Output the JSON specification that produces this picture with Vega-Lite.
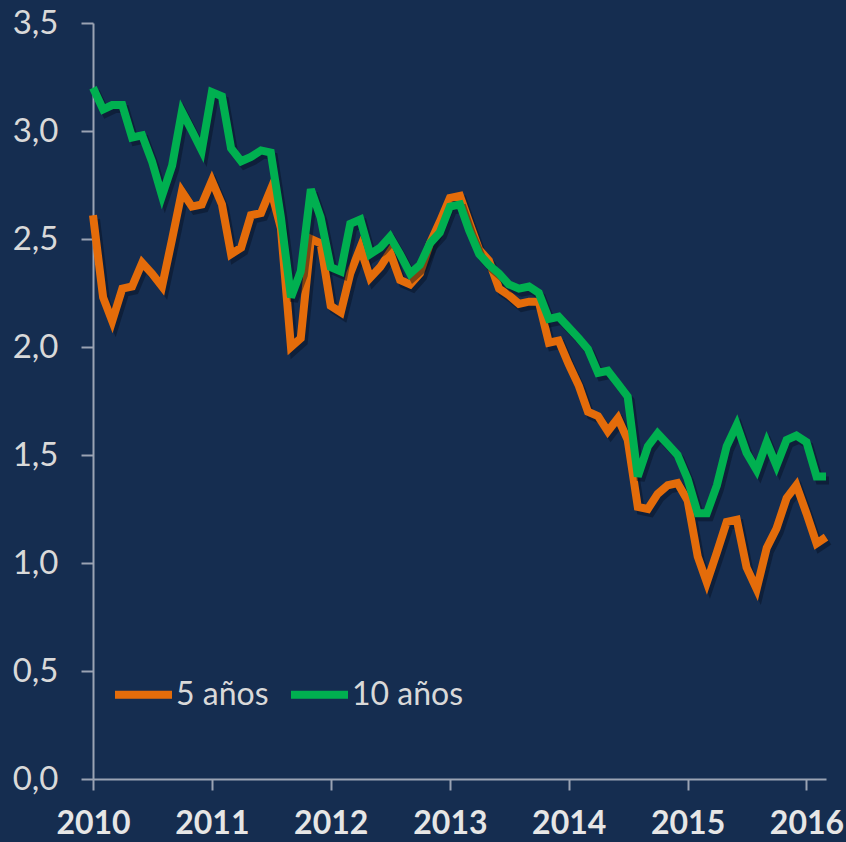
{
  "$schema": "https://vega.github.io/schema/vega-lite/v6.json",
  "width": 733,
  "height": 756,
  "autosize": {"type": "none"},
  "padding": {"left": 93, "top": 23, "right": 20, "bottom": 63},
  "background": "#152d50",
  "config": {
    "view": {"stroke": null},
    "font": "Lato",
    "axis": {"grid": false, "domainColor": "#9aa3b3", "tickColor": "#9aa3b3", "domainWidth": 2, "tickWidth": 2, "labelColor": "#d9d9d9", "labelFont": "Lato", "title": null}
  },
  "data": {
    "values": [
      {"fecha":"2010-01","serie":"5 años","valor":2.61},{"fecha":"2010-02","serie":"5 años","valor":2.23},{"fecha":"2010-03","serie":"5 años","valor":2.12},{"fecha":"2010-04","serie":"5 años","valor":2.27},{"fecha":"2010-05","serie":"5 años","valor":2.28},{"fecha":"2010-06","serie":"5 años","valor":2.39},{"fecha":"2010-07","serie":"5 años","valor":2.34},{"fecha":"2010-08","serie":"5 años","valor":2.28},{"fecha":"2010-09","serie":"5 años","valor":2.50},{"fecha":"2010-10","serie":"5 años","valor":2.72},{"fecha":"2010-11","serie":"5 años","valor":2.65},{"fecha":"2010-12","serie":"5 años","valor":2.66},
      {"fecha":"2011-01","serie":"5 años","valor":2.77},{"fecha":"2011-02","serie":"5 años","valor":2.66},{"fecha":"2011-03","serie":"5 años","valor":2.43},{"fecha":"2011-04","serie":"5 años","valor":2.46},{"fecha":"2011-05","serie":"5 años","valor":2.61},{"fecha":"2011-06","serie":"5 años","valor":2.62},{"fecha":"2011-07","serie":"5 años","valor":2.73},{"fecha":"2011-08","serie":"5 años","valor":2.55},{"fecha":"2011-09","serie":"5 años","valor":2.00},{"fecha":"2011-10","serie":"5 años","valor":2.04},{"fecha":"2011-11","serie":"5 años","valor":2.50},{"fecha":"2011-12","serie":"5 años","valor":2.48},
      {"fecha":"2012-01","serie":"5 años","valor":2.19},{"fecha":"2012-02","serie":"5 años","valor":2.16},{"fecha":"2012-03","serie":"5 años","valor":2.34},{"fecha":"2012-04","serie":"5 años","valor":2.46},{"fecha":"2012-05","serie":"5 años","valor":2.32},{"fecha":"2012-06","serie":"5 años","valor":2.37},{"fecha":"2012-07","serie":"5 años","valor":2.44},{"fecha":"2012-08","serie":"5 años","valor":2.31},{"fecha":"2012-09","serie":"5 años","valor":2.29},{"fecha":"2012-10","serie":"5 años","valor":2.34},{"fecha":"2012-11","serie":"5 años","valor":2.48},{"fecha":"2012-12","serie":"5 años","valor":2.58},
      {"fecha":"2013-01","serie":"5 años","valor":2.69},{"fecha":"2013-02","serie":"5 años","valor":2.70},{"fecha":"2013-03","serie":"5 años","valor":2.58},{"fecha":"2013-04","serie":"5 años","valor":2.45},{"fecha":"2013-05","serie":"5 años","valor":2.40},{"fecha":"2013-06","serie":"5 años","valor":2.27},{"fecha":"2013-07","serie":"5 años","valor":2.24},{"fecha":"2013-08","serie":"5 años","valor":2.20},{"fecha":"2013-09","serie":"5 años","valor":2.21},{"fecha":"2013-10","serie":"5 años","valor":2.21},{"fecha":"2013-11","serie":"5 años","valor":2.02},{"fecha":"2013-12","serie":"5 años","valor":2.03},
      {"fecha":"2014-01","serie":"5 años","valor":1.92},{"fecha":"2014-02","serie":"5 años","valor":1.82},{"fecha":"2014-03","serie":"5 años","valor":1.70},{"fecha":"2014-04","serie":"5 años","valor":1.68},{"fecha":"2014-05","serie":"5 años","valor":1.61},{"fecha":"2014-06","serie":"5 años","valor":1.67},{"fecha":"2014-07","serie":"5 años","valor":1.57},{"fecha":"2014-08","serie":"5 años","valor":1.26},{"fecha":"2014-09","serie":"5 años","valor":1.25},{"fecha":"2014-10","serie":"5 años","valor":1.32},{"fecha":"2014-11","serie":"5 años","valor":1.36},{"fecha":"2014-12","serie":"5 años","valor":1.37},
      {"fecha":"2015-01","serie":"5 años","valor":1.29},{"fecha":"2015-02","serie":"5 años","valor":1.03},{"fecha":"2015-03","serie":"5 años","valor":0.91},{"fecha":"2015-04","serie":"5 años","valor":1.05},{"fecha":"2015-05","serie":"5 años","valor":1.19},{"fecha":"2015-06","serie":"5 años","valor":1.20},{"fecha":"2015-07","serie":"5 años","valor":0.98},{"fecha":"2015-08","serie":"5 años","valor":0.88},{"fecha":"2015-09","serie":"5 años","valor":1.07},{"fecha":"2015-10","serie":"5 años","valor":1.16},{"fecha":"2015-11","serie":"5 años","valor":1.30},{"fecha":"2015-12","serie":"5 años","valor":1.36},
      {"fecha":"2016-01","serie":"5 años","valor":1.23},{"fecha":"2016-02","serie":"5 años","valor":1.09},{"fecha":"2016-03","serie":"5 años","valor":1.12},
      {"fecha":"2010-01","serie":"10 años","valor":3.20},{"fecha":"2010-02","serie":"10 años","valor":3.10},{"fecha":"2010-03","serie":"10 años","valor":3.12},{"fecha":"2010-04","serie":"10 años","valor":3.12},{"fecha":"2010-05","serie":"10 años","valor":2.97},{"fecha":"2010-06","serie":"10 años","valor":2.98},{"fecha":"2010-07","serie":"10 años","valor":2.86},{"fecha":"2010-08","serie":"10 años","valor":2.70},{"fecha":"2010-09","serie":"10 años","valor":2.84},{"fecha":"2010-10","serie":"10 años","valor":3.09},{"fecha":"2010-11","serie":"10 años","valor":3.00},{"fecha":"2010-12","serie":"10 años","valor":2.91},
      {"fecha":"2011-01","serie":"10 años","valor":3.18},{"fecha":"2011-02","serie":"10 años","valor":3.16},{"fecha":"2011-03","serie":"10 años","valor":2.92},{"fecha":"2011-04","serie":"10 años","valor":2.86},{"fecha":"2011-05","serie":"10 años","valor":2.88},{"fecha":"2011-06","serie":"10 años","valor":2.91},{"fecha":"2011-07","serie":"10 años","valor":2.90},{"fecha":"2011-08","serie":"10 años","valor":2.60},{"fecha":"2011-09","serie":"10 años","valor":2.23},{"fecha":"2011-10","serie":"10 años","valor":2.35},{"fecha":"2011-11","serie":"10 años","valor":2.73},{"fecha":"2011-12","serie":"10 años","valor":2.60},
      {"fecha":"2012-01","serie":"10 años","valor":2.37},{"fecha":"2012-02","serie":"10 años","valor":2.35},{"fecha":"2012-03","serie":"10 años","valor":2.57},{"fecha":"2012-04","serie":"10 años","valor":2.59},{"fecha":"2012-05","serie":"10 años","valor":2.43},{"fecha":"2012-06","serie":"10 años","valor":2.46},{"fecha":"2012-07","serie":"10 años","valor":2.51},{"fecha":"2012-08","serie":"10 años","valor":2.43},{"fecha":"2012-09","serie":"10 años","valor":2.34},{"fecha":"2012-10","serie":"10 años","valor":2.38},{"fecha":"2012-11","serie":"10 años","valor":2.48},{"fecha":"2012-12","serie":"10 años","valor":2.53},
      {"fecha":"2013-01","serie":"10 años","valor":2.65},{"fecha":"2013-02","serie":"10 años","valor":2.66},{"fecha":"2013-03","serie":"10 años","valor":2.54},{"fecha":"2013-04","serie":"10 años","valor":2.43},{"fecha":"2013-05","serie":"10 años","valor":2.38},{"fecha":"2013-06","serie":"10 años","valor":2.34},{"fecha":"2013-07","serie":"10 años","valor":2.29},{"fecha":"2013-08","serie":"10 años","valor":2.27},{"fecha":"2013-09","serie":"10 años","valor":2.28},{"fecha":"2013-10","serie":"10 años","valor":2.25},{"fecha":"2013-11","serie":"10 años","valor":2.13},{"fecha":"2013-12","serie":"10 años","valor":2.14},
      {"fecha":"2014-01","serie":"10 años","valor":2.09},{"fecha":"2014-02","serie":"10 años","valor":2.04},{"fecha":"2014-03","serie":"10 años","valor":1.99},{"fecha":"2014-04","serie":"10 años","valor":1.88},{"fecha":"2014-05","serie":"10 años","valor":1.89},{"fecha":"2014-06","serie":"10 años","valor":1.83},{"fecha":"2014-07","serie":"10 años","valor":1.77},{"fecha":"2014-08","serie":"10 años","valor":1.40},{"fecha":"2014-09","serie":"10 años","valor":1.54},{"fecha":"2014-10","serie":"10 años","valor":1.60},{"fecha":"2014-11","serie":"10 años","valor":1.55},{"fecha":"2014-12","serie":"10 años","valor":1.50},
      {"fecha":"2015-01","serie":"10 años","valor":1.39},{"fecha":"2015-02","serie":"10 años","valor":1.23},{"fecha":"2015-03","serie":"10 años","valor":1.23},{"fecha":"2015-04","serie":"10 años","valor":1.36},{"fecha":"2015-05","serie":"10 años","valor":1.54},{"fecha":"2015-06","serie":"10 años","valor":1.64},{"fecha":"2015-07","serie":"10 años","valor":1.51},{"fecha":"2015-08","serie":"10 años","valor":1.43},{"fecha":"2015-09","serie":"10 años","valor":1.56},{"fecha":"2015-10","serie":"10 años","valor":1.45},{"fecha":"2015-11","serie":"10 años","valor":1.57},{"fecha":"2015-12","serie":"10 años","valor":1.59},
      {"fecha":"2016-01","serie":"10 años","valor":1.56},{"fecha":"2016-02","serie":"10 años","valor":1.40},{"fecha":"2016-03","serie":"10 años","valor":1.40}
    ],
    "format": {"parse": {"fecha": "date:'%Y-%m'"}}
  },
  "encoding": {
    "x": {
      "field": "fecha", "type": "temporal",
      "scale": {"domain": [{"year": 2010, "month": 1, "date": 1}, {"year": 2016, "month": 3, "date": 1}], "nice": false},
      "axis": {"format": "%Y", "tickCount": {"interval": "year", "step": 1}, "labelFontSize": 32, "labelFontWeight": "bold", "labelColor": "#e6e6e6", "tickSize": 11, "labelPadding": 18, "labelFlush": false, "labelOverlap": false}
    },
    "y": {
      "field": "valor", "type": "quantitative",
      "scale": {"domain": [0, 3.5], "nice": false, "zero": true},
      "axis": {"values": [0, 0.5, 1, 1.5, 2, 2.5, 3, 3.5], "labelExpr": "replace(format(datum.value, '.1f'), '.', ',')", "labelFontSize": 33, "labelFontWeight": "normal", "tickSize": 12, "labelPadding": 23}
    }
  },
  "layer": [
    {
      "transform": [{"filter": "datum.serie === '5 años'"}],
      "mark": {"type": "line", "strokeWidth": 8, "color": "#07101f", "opacity": 0.45, "xOffset": 3, "yOffset": 4},
      "encoding": {}
    },
    {
      "transform": [{"filter": "datum.serie === '5 años'"}],
      "mark": {"type": "line", "strokeWidth": 8},
      "encoding": {
        "color": {"field": "serie", "type": "nominal", "scale": {"domain": ["5 años", "10 años"], "range": ["#e46c0a", "#00b050"]},
          "legend": {"orient": "none", "legendX": 18, "legendY": 639, "direction": "horizontal", "title": null, "symbolType": "stroke", "symbolSize": 3249, "symbolStrokeWidth": 8, "labelFontSize": 32, "labelFontWeight": "normal", "labelColor": "#d9d9d9", "labelFont": "Lato", "labelOffset": 0, "columnPadding": 6}}
      }
    },
    {
      "transform": [{"filter": "datum.serie === '10 años'"}],
      "mark": {"type": "line", "strokeWidth": 8, "color": "#07101f", "opacity": 0.45, "xOffset": 3, "yOffset": 4},
      "encoding": {}
    },
    {
      "transform": [{"filter": "datum.serie === '10 años'"}],
      "mark": {"type": "line", "strokeWidth": 8},
      "encoding": {
        "color": {"field": "serie", "type": "nominal", "scale": {"domain": ["5 años", "10 años"], "range": ["#e46c0a", "#00b050"]}}
      }
    }
  ]
}
